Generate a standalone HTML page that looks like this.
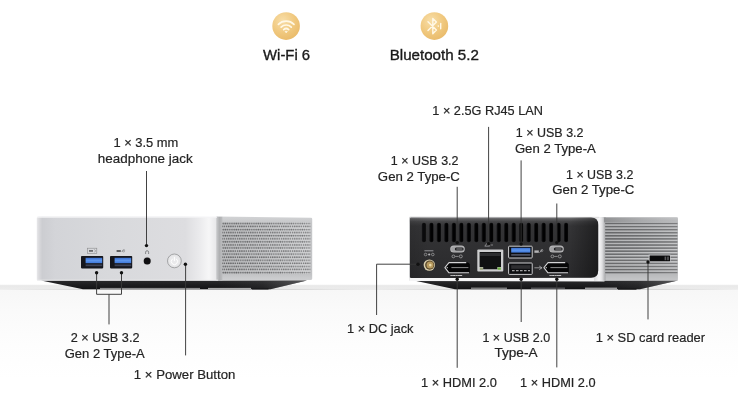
<!DOCTYPE html>
<html lang="en"><head><meta charset="utf-8"><title>Ports overview</title>
<style>
html,body{margin:0;padding:0;background:#fff;}
body{width:738px;height:401px;overflow:hidden;font-family:"Liberation Sans",sans-serif;}
svg{display:block;will-change:transform;}
.t{font-family:"Liberation Sans",sans-serif;font-size:13.3px;fill:#242424;stroke:#242424;stroke-width:.2px;}
.h{font-family:"Liberation Sans",sans-serif;font-size:15px;fill:#1a1a1a;stroke:#1a1a1a;stroke-width:.35px;}
.ln{stroke:#383838;stroke-width:.95;fill:none;}
.dot{fill:#111;}
</style></head><body>
<svg width="738" height="401" viewBox="0 0 738 401">
<defs>
<linearGradient id="floor" x1="0" y1="0" x2="0" y2="1">
 <stop offset="0" stop-color="#f7f7f7"/><stop offset="0.2" stop-color="#fafafa"/><stop offset="0.5" stop-color="#fdfdfd"/><stop offset="0.8" stop-color="#ffffff"/>
</linearGradient>
<linearGradient id="band" x1="0" y1="0" x2="0" y2="1">
 <stop offset="0" stop-color="#f0f0f0"/><stop offset="0.2" stop-color="#e9e9e9"/><stop offset="0.8" stop-color="#ececec"/><stop offset="1" stop-color="#f3f3f3"/>
</linearGradient>
<linearGradient id="shline" x1="0" y1="0" x2="1" y2="0">
 <stop offset="0" stop-color="#bdbdbd" stop-opacity="0"/><stop offset="0.1" stop-color="#b0b0b0" stop-opacity=".35"/><stop offset="0.4" stop-color="#b0b0b0" stop-opacity=".4"/><stop offset="0.5" stop-color="#bdbdbd" stop-opacity=".05"/><stop offset="0.6" stop-color="#b0b0b0" stop-opacity=".4"/><stop offset="0.9" stop-color="#b0b0b0" stop-opacity=".4"/><stop offset="1" stop-color="#bdbdbd" stop-opacity="0"/>
</linearGradient>
<linearGradient id="panel" x1="0" y1="0" x2="0" y2="1">
 <stop offset="0" stop-color="#7a7a7c"/><stop offset="0.03" stop-color="#5a5a5c"/><stop offset="0.07" stop-color="#424244"/><stop offset="0.14" stop-color="#343436"/><stop offset="1" stop-color="#2a2a2c"/>
</linearGradient>
<linearGradient id="panelr" x1="0" y1="0" x2="1" y2="0">
 <stop offset="0" stop-color="#000" stop-opacity=".1"/><stop offset="0.1" stop-color="#000" stop-opacity="0"/><stop offset="0.85" stop-color="#000" stop-opacity="0"/><stop offset="1" stop-color="#000" stop-opacity=".4"/>
</linearGradient>
<linearGradient id="corner" x1="0" y1="0" x2="1" y2="0">
 <stop offset="0" stop-color="#dcdcde"/><stop offset="0.45" stop-color="#f6f6f7"/><stop offset="0.7" stop-color="#e0e0e2"/><stop offset="1" stop-color="#a4a5a7"/>
</linearGradient>
<linearGradient id="side2" x1="0" y1="0" x2="1" y2="0">
 <stop offset="0" stop-color="#a5a6a8"/><stop offset="0.5" stop-color="#c3c4c6"/><stop offset="1" stop-color="#cfd0d2"/>
</linearGradient>
<linearGradient id="sideedge" x1="0" y1="0" x2="1" y2="0">
 <stop offset="0" stop-color="#c9cacc"/><stop offset="0.5" stop-color="#aeafb1"/><stop offset="1" stop-color="#bcbdbf"/>
</linearGradient>
<linearGradient id="ventfade" x1="0" y1="0" x2="1" y2="0">
 <stop offset="0" stop-color="#000" stop-opacity=".08"/><stop offset="1" stop-color="#fff" stop-opacity=".12"/>
</linearGradient>
<linearGradient id="ventfade2" x1="0" y1="0" x2="1" y2="0">
 <stop offset="0" stop-color="#000" stop-opacity=".06"/><stop offset="1" stop-color="#fff" stop-opacity=".1"/>
</linearGradient>
<linearGradient id="side2b" x1="0" y1="0" x2="0" y2="1">
 <stop offset="0" stop-color="#c4c5c7"/><stop offset="0.06" stop-color="#a6a7a9"/><stop offset="0.12" stop-color="#b0b1b3"/><stop offset="0.9" stop-color="#b9babc"/><stop offset="1" stop-color="#c6c7c9"/>
</linearGradient>
<linearGradient id="topband" x1="0" y1="0" x2="1" y2="0">
 <stop offset="0" stop-color="#8c8d8f" stop-opacity=".9"/><stop offset="0.35" stop-color="#a0a1a3" stop-opacity=".8"/><stop offset="1" stop-color="#c6c7c9" stop-opacity=".6"/>
</linearGradient>
<linearGradient id="basefade" x1="0" y1="0" x2="1" y2="0">
 <stop offset="0" stop-color="#6a6a6c" stop-opacity="0"/><stop offset="0.5" stop-color="#6a6a6c" stop-opacity=".15"/><stop offset="1" stop-color="#7a7a7c" stop-opacity=".6"/>
</linearGradient>
<pattern id="vent2" x="605.2" y="222.05" width="2" height="3.07" patternUnits="userSpaceOnUse">
 <rect x="0" y="0" width="2" height="3.07" fill="#c6c7c9"/>
 <rect x="0" y="0.65" width="2" height="1.6" fill="#6c6d6f"/>
</pattern>
<radialGradient id="gold" cx="0.38" cy="0.3" r="0.8">
 <stop offset="0" stop-color="#f8dea8"/><stop offset="0.55" stop-color="#f0c87e"/><stop offset="1" stop-color="#e8b866"/>
</radialGradient>
<linearGradient id="front" x1="0" y1="0" x2="1" y2="0">
 <stop offset="0" stop-color="#e8e8ea"/><stop offset="0.012" stop-color="#dadadd"/><stop offset="0.03" stop-color="#cccdd1"/><stop offset="0.1" stop-color="#d3d4d8"/><stop offset="0.4" stop-color="#d8d9dc"/><stop offset="0.82" stop-color="#dddde0"/><stop offset="0.9" stop-color="#ebebed"/><stop offset="0.95" stop-color="#f6f6f7"/><stop offset="1" stop-color="#e4e4e6"/>
</linearGradient>
<linearGradient id="side" x1="0" y1="0" x2="0" y2="1">
 <stop offset="0" stop-color="#d2d3d5"/><stop offset="0.1" stop-color="#c6c7c9"/><stop offset="0.9" stop-color="#c2c3c5"/><stop offset="1" stop-color="#cfd0d2"/>
</linearGradient>
<pattern id="vent" x="222.2" y="221.9" width="2.2" height="6.14" patternUnits="userSpaceOnUse">
 <rect x="0" y="0" width="2.2" height="6.14" fill="#cfd0d2"/>
 <rect x="0.2" y="0.6" width="1.6" height="1.8" rx="0.8" fill="#67686a"/>
 <rect x="1.3" y="3.67" width="1.6" height="1.8" rx="0.8" fill="#67686a"/>
 <rect x="-0.9" y="3.67" width="1.6" height="1.8" rx="0.8" fill="#67686a"/>
</pattern>
<linearGradient id="base" x1="0" y1="0" x2="0" y2="1">
 <stop offset="0" stop-color="#2a2a2c"/><stop offset="1" stop-color="#121214"/>
</linearGradient>
<linearGradient id="usbblue" x1="0" y1="0" x2="0" y2="1">
 <stop offset="0" stop-color="#3a6fd0"/><stop offset="0.5" stop-color="#5b95ec"/><stop offset="1" stop-color="#3f78da"/>
</linearGradient>
</defs>
<rect width="738" height="401" fill="#fff"/>
<rect x="0" y="289.6" width="738" height="111.39999999999998" fill="url(#floor)"/>
<rect x="0" y="284.7" width="738" height="5.4" fill="url(#band)"/>
<rect x="0" y="288.9" width="738" height="1" fill="url(#shline)"/>
<g>
<circle cx="286.1" cy="26.1" r="13.8" fill="url(#gold)"/>
<g fill="none" stroke="#fff8e6" stroke-width="1.7" stroke-linecap="round">
 <path d="M278.4 24.4a11 11 0 0 1 15.6 0"/>
 <path d="M281.1 27.1a7.2 7.2 0 0 1 10.2 0"/>
 <path d="M283.7 29.7a3.6 3.6 0 0 1 5 0"/>
</g>
<path d="M284.9 31.2h2.6l-1.3 1.8z" fill="#fff8e6" stroke="#fff8e6" stroke-width=".5" stroke-linejoin="round"/>
<circle cx="434.4" cy="26.1" r="13.8" fill="url(#gold)"/>
<g fill="none" stroke="#fff8e6" stroke-width="1.4" stroke-linecap="round" stroke-linejoin="round">
 <path d="M428 21.8l8.4 8.3-3.6 3.7v-15.4l3.6 3.7-8.4 8.3"/>
 <path d="M440.7 23.4v5.4"/>
</g>
<circle cx="438.3" cy="26.1" r=".8" fill="#fff8e6"/>
</g>
<g>
<!-- base -->
<path d="M41 280.4 L307 280.4 L270.5 289.2 L83 289.2 Z" fill="url(#base)"/>
<path d="M218 280.6 L307 280.6 L270.5 289.2 L218 289.2 Z" fill="url(#basefade)"/>
<rect x="100" y="287.9" width="100" height="1.1" fill="#b5b5b7" opacity=".75"/>
<rect x="208" y="287.9" width="43" height="1.2" fill="#c5c5c7" opacity=".85"/>
<rect x="252" y="288.2" width="16.5" height="1.3" fill="#1a1a1c"/>
<!-- front face -->
<path d="M36.8 218 Q36.8 216.8 38 216.8 L218 216.8 L218 280.6 L38 280.6 Q36.8 280.6 36.8 279.4 Z" fill="url(#front)"/>
<!-- side -->
<path d="M216.6 216.6 L311 217.7 Q312.2 217.7 312.2 218.9 L312.2 278.8 Q312.2 279.8 311 279.9 L216.6 280.6 Z" fill="url(#side)"/>
<rect x="216.4" y="216.8" width="6" height="63.8" fill="url(#sideedge)"/>
<rect x="222.2" y="222.2" width="88.2" height="51.8" fill="url(#vent)"/>
<rect x="222.2" y="222.2" width="88.2" height="51.8" fill="url(#ventfade)"/>
<rect x="37" y="216.8" width="180" height="1" fill="#f5f5f6" opacity=".9"/>
<rect x="37" y="279.6" width="181" height="1" fill="#f0f0f1" opacity=".7"/>
<!-- usb ports -->
<g>
 <rect x="81" y="256" width="22.2" height="12.4" rx="0.8" fill="#15161c"/>
 <rect x="85.6" y="257.8" width="16.6" height="5.4" fill="url(#usbblue)"/>
 <rect x="85.6" y="264.4" width="16.6" height="1.8" fill="#3d4254"/>
 <rect x="110" y="256" width="22.2" height="12.4" rx="0.8" fill="#15161c"/>
 <rect x="114.6" y="257.8" width="16.6" height="5.4" fill="url(#usbblue)"/>
 <rect x="114.6" y="264.4" width="16.6" height="1.8" fill="#3d4254"/>
 <rect x="87.6" y="248.2" width="9.2" height="5.2" fill="none" stroke="#8a8b8d" stroke-width=".6"/>
 <rect x="89" y="250" width="4" height="1.8" fill="#6b6c6e"/>
 <path d="M94.4 249.4l1.2 1.5-1.2 1.5" fill="none" stroke="#7d7e80" stroke-width=".6"/>
 <rect x="116.6" y="250" width="4.2" height="2" fill="#606163"/>
 <path d="M121.6 252l2.6-2.6" stroke="#77787a" stroke-width=".7"/>
 <circle cx="123.6" cy="250.9" r="1.1" fill="none" stroke="#77787a" stroke-width=".5"/>
</g>
<!-- headphone -->
<path d="M145.6 254v-1.8a1.5 1.5 0 0 1 3 0v1.8" fill="none" stroke="#707173" stroke-width=".8"/>
<circle cx="147.2" cy="260.9" r="4.1" fill="#cfcfd1"/>
<circle cx="147.2" cy="260.9" r="3.5" fill="#0f0f11"/>
<!-- power button -->
<circle cx="174.4" cy="260.9" r="6.9" fill="#e4e4e6" stroke="#88898b" stroke-width=".7"/>
<circle cx="174.4" cy="260.9" r="5.4" fill="#e9e9eb"/>
<path d="M172.3 259a3.2 3.2 0 1 0 4.2 0M174.4 257.2v3.5" fill="none" stroke="#fff" stroke-width="1" stroke-linecap="round"/>
</g>
<g>
<!-- base -->
<path d="M414 280.4 L678 280.4 L640 289.2 L455 289.2 Z" fill="url(#base)"/>
<path d="M598 280.6 L678 280.6 L640 289.2 L598 289.2 Z" fill="url(#basefade)"/>
<rect x="471" y="287.6" width="36" height="1.2" fill="#b5b5b7" opacity=".8"/>
<rect x="531" y="287.6" width="34" height="1.2" fill="#b5b5b7" opacity=".5"/>
<rect x="585" y="287.6" width="32" height="1.3" fill="#c5c5c7" opacity=".85"/>
<rect x="618" y="288" width="18.5" height="1.7" fill="#1a1a1c"/>
<!-- silver shell -->
<path d="M409.3 218 Q409.3 216.8 410.5 216.8 L676.7 217.2 Q677.9 217.2 677.9 218.4 L677.9 279.4 Q677.9 280.6 676.7 280.6 L410.5 280.9 Q409.3 280.9 409.3 279.7 Z" fill="url(#side2b)"/>
<path d="M409.3 277.6 L600 277 L604.5 277 L604.5 281.4 L409.3 280.9 Z" fill="#f5f5f6"/>
<rect x="594" y="217" width="11.5" height="63.8" fill="url(#corner)"/>
<rect x="409.3" y="216.8" width="190" height="1.1" fill="#dededf"/>
<rect x="605.2" y="222.4" width="72.2" height="51.4" fill="url(#vent2)"/>
<rect x="605.2" y="222.4" width="72.2" height="51.4" fill="url(#ventfade2)"/>
<rect x="604" y="217.6" width="74" height="4.8" fill="url(#topband)"/>
<!-- black panel -->
<path d="M410 218.5 Q410 217.5 411 217.5 L591 217.5 Q598.2 217.5 598.2 224.7 L598.2 270.6 Q598.2 277.8 591 277.8 L411 278.1 Q410 278.1 410 277.1 Z" fill="url(#panel)"/>
<path d="M410 218.5 Q410 217.5 411 217.5 L591 217.5 Q598.2 217.5 598.2 224.7 L598.2 270.6 Q598.2 277.8 591 277.8 L411 278.1 Q410 278.1 410 277.1 Z" fill="url(#panelr)"/>
<rect x="421.90" y="222.8" width="4" height="19.4" rx="2" fill="#121214"/><rect x="422.80" y="223.2" width="2.8" height="18.6" rx="1.4" fill="#000" opacity="0.4"/><rect x="429.38" y="222.8" width="4" height="19.4" rx="2" fill="#121214"/><rect x="430.28" y="223.2" width="2.8" height="18.6" rx="1.4" fill="#000" opacity="0.9"/><rect x="436.86" y="222.8" width="4" height="19.4" rx="2" fill="#121214"/><rect x="437.76" y="223.2" width="2.8" height="18.6" rx="1.4" fill="#000" opacity="0.9"/><rect x="444.34" y="222.8" width="4" height="19.4" rx="2" fill="#121214"/><rect x="445.24" y="223.2" width="2.8" height="18.6" rx="1.4" fill="#000" opacity="0.9"/><rect x="451.82" y="222.8" width="4" height="19.4" rx="2" fill="#121214"/><rect x="452.72" y="223.2" width="2.8" height="18.6" rx="1.4" fill="#000" opacity="0.9"/><rect x="459.30" y="222.8" width="4" height="19.4" rx="2" fill="#121214"/><rect x="460.20" y="223.2" width="2.8" height="18.6" rx="1.4" fill="#000" opacity="0.9"/><rect x="466.78" y="222.8" width="4" height="19.4" rx="2" fill="#121214"/><rect x="467.68" y="223.2" width="2.8" height="18.6" rx="1.4" fill="#000" opacity="0.9"/><rect x="474.26" y="222.8" width="4" height="19.4" rx="2" fill="#121214"/><rect x="475.16" y="223.2" width="2.8" height="18.6" rx="1.4" fill="#000" opacity="0.9"/><rect x="481.74" y="222.8" width="4" height="19.4" rx="2" fill="#121214"/><rect x="482.64" y="223.2" width="2.8" height="18.6" rx="1.4" fill="#000" opacity="0.9"/><rect x="489.22" y="222.8" width="4" height="19.4" rx="2" fill="#121214"/><rect x="490.12" y="223.2" width="2.8" height="18.6" rx="1.4" fill="#000" opacity="0.9"/><rect x="496.70" y="222.8" width="4" height="19.4" rx="2" fill="#121214"/><rect x="497.60" y="223.2" width="2.8" height="18.6" rx="1.4" fill="#000" opacity="0.9"/><rect x="504.18" y="222.8" width="4" height="19.4" rx="2" fill="#121214"/><rect x="505.08" y="223.2" width="2.8" height="18.6" rx="1.4" fill="#000" opacity="0.9"/><rect x="511.66" y="222.8" width="4" height="19.4" rx="2" fill="#121214"/><rect x="512.56" y="223.2" width="2.8" height="18.6" rx="1.4" fill="#000" opacity="0.9"/><rect x="519.14" y="222.8" width="4" height="19.4" rx="2" fill="#121214"/><rect x="520.04" y="223.2" width="2.8" height="18.6" rx="1.4" fill="#000" opacity="0.9"/><rect x="526.62" y="222.8" width="4" height="19.4" rx="2" fill="#121214"/><rect x="527.52" y="223.2" width="2.8" height="18.6" rx="1.4" fill="#000" opacity="0.9"/><rect x="534.10" y="222.8" width="4" height="19.4" rx="2" fill="#121214"/><rect x="535.00" y="223.2" width="2.8" height="18.6" rx="1.4" fill="#000" opacity="0.9"/><rect x="541.58" y="222.8" width="4" height="19.4" rx="2" fill="#121214"/><rect x="542.48" y="223.2" width="2.8" height="18.6" rx="1.4" fill="#000" opacity="0.9"/><rect x="549.06" y="222.8" width="4" height="19.4" rx="2" fill="#121214"/><rect x="549.96" y="223.2" width="2.8" height="18.6" rx="1.4" fill="#000" opacity="0.9"/><rect x="556.54" y="222.8" width="4" height="19.4" rx="2" fill="#121214"/><rect x="557.44" y="223.2" width="2.8" height="18.6" rx="1.4" fill="#000" opacity="0.9"/><rect x="564.02" y="222.8" width="4" height="19.4" rx="2" fill="#121214"/><rect x="564.92" y="223.2" width="2.8" height="18.6" rx="1.4" fill="#000" opacity="0.9"/>
<!-- DC jack -->
<rect x="424.4" y="250" width="9" height="1.4" fill="#77777a"/>
<circle cx="425.6" cy="254.5" r="1.3" fill="none" stroke="#b5b5b7" stroke-width=".6"/>
<circle cx="429.2" cy="254.5" r="1.1" fill="#b5b5b7"/>
<circle cx="432.8" cy="254.5" r="1.3" fill="none" stroke="#b5b5b7" stroke-width=".6"/>
<circle cx="429.3" cy="265.1" r="5.7" fill="#d9cfae"/>
<circle cx="429.7" cy="265.1" r="4.6" fill="#5a4a2c"/>
<circle cx="430" cy="265.1" r="3.5" fill="#b79a5e"/>
<circle cx="430.3" cy="265.1" r="1.3" fill="#ecdba8"/>
<!-- usb-c 1 -->
<rect x="450.2" y="245.6" width="14.6" height="7" rx="3.5" fill="#b9b9bb"/><rect x="451.09999999999997" y="246.4" width="12.8" height="5.4" rx="2.7" fill="#a2a2a4"/><rect x="454.8" y="247.5" width="8.8" height="3.1" rx="1.5" fill="#222224"/><rect x="456.2" y="248.6" width="6.4" height=".9" rx=".4" fill="#8c8c8e"/><circle cx="453.4" cy="256.4" r="1.4" fill="none" stroke="#b0b0b2" stroke-width=".7"/><path d="M455.2 256.4h3.4" stroke="#b0b0b2" stroke-width=".7"/><circle cx="460.8" cy="256.4" r="1.5" fill="none" stroke="#b0b0b2" stroke-width=".7"/>
<!-- hdmi 1 -->
<path d="M468.0 262.6 L449.0 262.6 L444.90000000000003 267.6 L449.0 272.8 L469.20000000000005 272.8 L469.8 271.6 L469.8 264 Z" fill="#060607"/><path d="M466.20000000000005 262.6 L449.0 262.6 L444.90000000000003 267.6 L449.0 272.8 L469.0 272.8" fill="none" stroke="#d4d4d6" stroke-width="1.05" stroke-linejoin="round"/><path d="M451.40000000000003 267.6 H468.40000000000003" stroke="#8a8a8c" stroke-width="1"/><circle cx="447.20000000000005" cy="267.7" r=".6" fill="#f0f0f0"/><text x="450.40000000000003" y="276.2" textLength="12" lengthAdjust="spacingAndGlyphs" style="font-family:&quot;Liberation Sans&quot;,sans-serif;font-size:2.4px;font-weight:bold;fill:#dededf;stroke:#dededf;stroke-width:.15px">HDMI</text>
<!-- rj45 -->
<path d="M484.8 246.2l2.4-3.2 2.4 3.2zM490.6 245h2.4" fill="none" stroke="#a8a8aa" stroke-width=".7"/>
<rect x="477.3" y="249.6" width="26" height="21.8" rx="1" fill="#cdcecf"/>
<path d="M479.6 252h21.4v15h-3.6v2.2h-14.2v-2.2h-3.6z" fill="#101112"/>
<rect x="480" y="253" width="20.6" height="3" fill="#2c2d2f"/>
<rect x="479.8" y="267.4" width="3.2" height="2.4" fill="#9aa27a"/>
<rect x="497.6" y="267.4" width="3.2" height="2.4" fill="#6fae45"/>
<!-- usb 3 blue -->
<rect x="508.6" y="246.2" width="23.6" height="11.8" rx="0.8" fill="#0e0f12" stroke="#cdcdcf" stroke-width="1"/>
<rect x="511.2" y="247.8" width="19.2" height="4.8" fill="url(#usbblue)"/>
<rect x="511.2" y="254" width="19.2" height="1.8" fill="#4a4e5c"/>
<rect x="534.4" y="250.4" width="4.4" height="2.4" fill="#b4b4b6"/>
<path d="M539.6 252.6l2.8-3" stroke="#b4b4b6" stroke-width=".8"/>
<circle cx="541.8" cy="250.6" r="1.1" fill="none" stroke="#b4b4b6" stroke-width=".5"/>
<!-- usb 2 -->
<rect x="508.6" y="263" width="23.6" height="11.4" rx="0.8" fill="#0e0f12" stroke="#cdcdcf" stroke-width="1"/>
<rect x="511.2" y="265.2" width="19.2" height="3.6" fill="#2e2e31"/>
<path d="M512 270.6h18" stroke="#a2a2a4" stroke-width="1.3" stroke-dasharray="2.6 1.4"/>
<path d="M534.4 267.8h7.6M539.2 266l2.8 1.8-2.8 1.8" fill="none" stroke="#b0b0b2" stroke-width=".8"/>
<!-- usb-c 2 -->
<rect x="549.2" y="245.6" width="14.6" height="7" rx="3.5" fill="#b9b9bb"/><rect x="550.1" y="246.4" width="12.8" height="5.4" rx="2.7" fill="#a2a2a4"/><rect x="553.8000000000001" y="247.5" width="8.8" height="3.1" rx="1.5" fill="#222224"/><rect x="555.2" y="248.6" width="6.4" height=".9" rx=".4" fill="#8c8c8e"/><circle cx="552.4000000000001" cy="256.4" r="1.4" fill="none" stroke="#b0b0b2" stroke-width=".7"/><path d="M554.2 256.4h3.4" stroke="#b0b0b2" stroke-width=".7"/><circle cx="559.8000000000001" cy="256.4" r="1.5" fill="none" stroke="#b0b0b2" stroke-width=".7"/>
<!-- hdmi 2 -->
<path d="M567.0 262.6 L548.0 262.6 L543.9 267.6 L548.0 272.8 L568.2 272.8 L568.8000000000001 271.6 L568.8000000000001 264 Z" fill="#060607"/><path d="M565.2 262.6 L548.0 262.6 L543.9 267.6 L548.0 272.8 L568.0 272.8" fill="none" stroke="#d4d4d6" stroke-width="1.05" stroke-linejoin="round"/><path d="M550.4 267.6 H567.4" stroke="#8a8a8c" stroke-width="1"/><circle cx="546.2" cy="267.7" r=".6" fill="#f0f0f0"/><text x="549.4" y="276.2" textLength="12" lengthAdjust="spacingAndGlyphs" style="font-family:&quot;Liberation Sans&quot;,sans-serif;font-size:2.4px;font-weight:bold;fill:#dededf;stroke:#dededf;stroke-width:.15px">HDMI</text>
<!-- SD slot -->
<rect x="648.6" y="254.6" width="22" height="7.4" fill="#c4c5c7"/>
<rect x="649.6" y="255.6" width="20.4" height="5.6" rx=".5" fill="#0b0b0c"/>
<rect x="664.6" y="256.6" width="1.6" height="3.6" fill="#5a5a5c"/>
<rect x="667.2" y="256.6" width="1.6" height="3.6" fill="#5a5a5c"/>
</g>
<g class="ln"><path d="M146.5 171V245.6"/><path d="M96.6 272.7V294.3H121.5V272.7"/><path d="M109 294.3V324.4"/><path d="M185.6 264.2V355.4"/><path d="M457.2 186.8V242.4"/><path d="M488.6 126.9V243.6"/><path d="M521.1 160.4V244"/><path d="M556.8 203.5V242.4"/><path d="M418 264.2H376.6V315"/><path d="M457.2 279.3V367.8"/><path d="M521.2 279.3V322"/><path d="M556.8 279.3V367.4"/><path d="M648 262V319.4"/></g>
<g class="dot"><circle cx="146.5" cy="245.6" r="1.7"/><circle cx="96.6" cy="272.7" r="1.7"/><circle cx="121.5" cy="272.7" r="1.7"/><circle cx="185.4" cy="264.2" r="1.7"/><circle cx="457.2" cy="242.6" r="1.7"/><circle cx="488.6" cy="243.6" r="1.7"/><circle cx="521.1" cy="244" r="1.7"/><circle cx="556.8" cy="242.6" r="1.7"/><circle cx="418" cy="264.2" r="1.7"/><circle cx="457.2" cy="279.3" r="1.7"/><circle cx="521.2" cy="279.3" r="1.7"/><circle cx="556.8" cy="279.3" r="1.7"/><circle cx="648" cy="262" r="1.7"/></g>
<g id="txt">
<text class="h" x="263.1" y="60.1" textLength="47.03" lengthAdjust="spacingAndGlyphs">Wi-Fi 6</text>
<text class="h" x="389.68" y="60.1" textLength="89.23" lengthAdjust="spacingAndGlyphs">Bluetooth 5.2</text>
<text class="t" x="113.45" y="147" textLength="64.9" lengthAdjust="spacingAndGlyphs">1 × 3.5 mm</text>
<text class="t" x="97.89" y="162.9" textLength="94.81" lengthAdjust="spacingAndGlyphs">headphone jack</text>
<text class="t" x="70.68" y="341.9" textLength="68.82" lengthAdjust="spacingAndGlyphs">2 × USB 3.2</text>
<text class="t" x="64.7" y="357.8" textLength="80.0" lengthAdjust="spacingAndGlyphs">Gen 2 Type-A</text>
<text class="t" x="133.87" y="378.6" textLength="101.47" lengthAdjust="spacingAndGlyphs">1 × Power Button</text>
<text class="t" x="432.29" y="114.9" textLength="110.65" lengthAdjust="spacingAndGlyphs">1 × 2.5G RJ45 LAN</text>
<text class="t" x="390.87" y="164.8" textLength="67.66" lengthAdjust="spacingAndGlyphs">1 × USB 3.2</text>
<text class="t" x="377.87" y="180.5" textLength="82.06" lengthAdjust="spacingAndGlyphs">Gen 2 Type-C</text>
<text class="t" x="515.87" y="137.4" textLength="67.63" lengthAdjust="spacingAndGlyphs">1 × USB 3.2</text>
<text class="t" x="514.88" y="153.1" textLength="80.94" lengthAdjust="spacingAndGlyphs">Gen 2 Type-A</text>
<text class="t" x="566.07" y="178.6" textLength="67.28" lengthAdjust="spacingAndGlyphs">1 × USB 3.2</text>
<text class="t" x="552.29" y="194.2" textLength="82.15" lengthAdjust="spacingAndGlyphs">Gen 2 Type-C</text>
<text class="t" x="347.08" y="332.9" textLength="66.45" lengthAdjust="spacingAndGlyphs">1 × DC jack</text>
<text class="t" x="421.07" y="387.3" textLength="75.86" lengthAdjust="spacingAndGlyphs">1 × HDMI 2.0</text>
<text class="t" x="482.47" y="341.6" textLength="67.63" lengthAdjust="spacingAndGlyphs">1 × USB 2.0</text>
<text class="t" x="494.49" y="357.4" textLength="43.02" lengthAdjust="spacingAndGlyphs">Type-A</text>
<text class="t" x="520.07" y="387.3" textLength="75.54" lengthAdjust="spacingAndGlyphs">1 × HDMI 2.0</text>
<text class="t" x="595.68" y="342.4" textLength="109.43" lengthAdjust="spacingAndGlyphs">1 × SD card reader</text>
</g>
</svg>
</body></html>
